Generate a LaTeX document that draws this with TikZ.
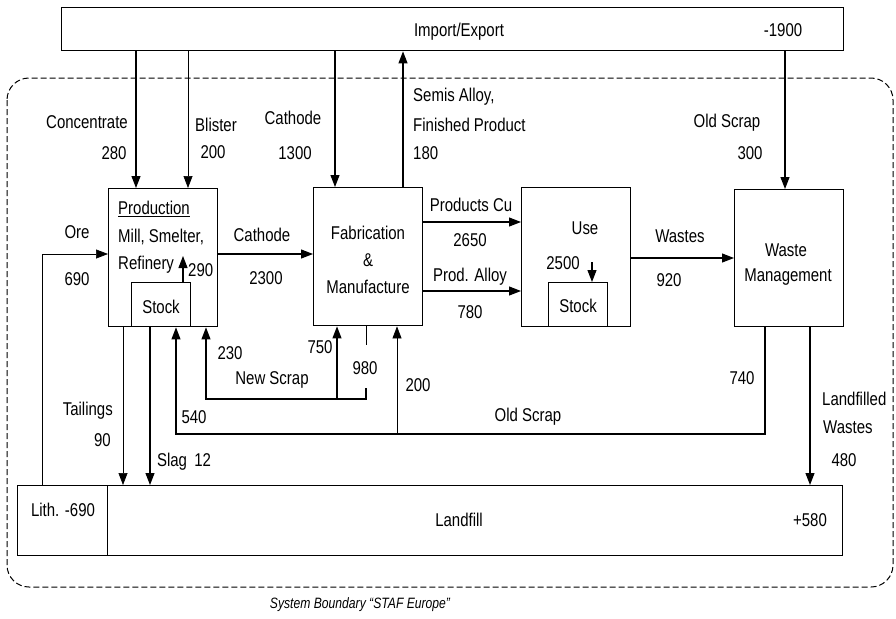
\documentclass[tikz,border=0pt]{standalone}
\usepackage{fontspec}
\setmainfont{Liberation Sans}[FakeStretch=0.81]
\usetikzlibrary{arrows.meta,calc}
\begin{document}
\begin{tikzpicture}[x=1pt,y=-1pt,
  font=\fontsize{18.5}{21}\selectfont,
  box/.style={draw, line width=1.4pt, inner sep=0pt, anchor=north west},
  lbl/.style={inner sep=0pt, anchor=center},
  flow/.style={line width=1.1pt, -{Triangle[length=12pt,width=9pt]}},
  thinflow/.style={flow, line width=0.7pt},
  plain/.style={line width=0.8pt},
  bound/.style={line width=1pt, dash pattern=on 6pt off 3pt, rounded corners=22pt}
]
\useasboundingbox (0,0) rectangle (896,618);
% boundary
\draw[bound] (7,78) rectangle (893,587);
% boxes
\node[box, minimum width=782pt, minimum height=43pt] (ie) at (61,7) {};
\node[box, minimum width=109pt, minimum height=138pt] (prod) at (108,188) {};
\node[box, minimum width=59pt, minimum height=44pt] (stk1) at (131,282) {};
\node[box, minimum width=109pt, minimum height=138pt] (fab) at (313,187) {};
\node[box, minimum width=109pt, minimum height=139pt] (use) at (521,187) {};
\node[box, minimum width=59pt, minimum height=44pt] (stk2) at (548,282) {};
\node[box, minimum width=109pt, minimum height=137pt] (wm) at (734,189) {};
\node[box, minimum width=90pt, minimum height=70pt] (lith) at (17,485) {};
\node[box, minimum width=735pt, minimum height=70pt] (lf) at (107,485) {};
% coordinates
\coordinate (xConc) at (136,0);
\coordinate (xBlis) at (188,0);
\coordinate (xCath) at (335,0);
\coordinate (xSemi) at (403,0);
\coordinate (xOld) at (785,0);
\coordinate (xOre) at (42,0);
\coordinate (xTail) at (123,0);
\coordinate (xSlag) at (150,0);
\coordinate (xOS) at (765,0);
\coordinate (xLW) at (810,0);
\coordinate (xR540) at (176,0);
\coordinate (xR200) at (397,0);
\coordinate (xR230) at (206,0);
\coordinate (xR750) at (337,0);
\coordinate (x290) at (183,0);
\coordinate (x2500) at (592,0);
\coordinate (yCath) at (0,254);
\coordinate (yPCu) at (0,222);
\coordinate (yPA) at (0,291);
\coordinate (yW) at (0,258);
\coordinate (yOS) at (0,434);
\coordinate (yNS) at (0,399);
\coordinate (y290) at (0,256);
\coordinate (y2500) at (0,262);
\coordinate (g1) at (366,345);
\coordinate (g2) at (366,388);
% top flows
\draw[flow] (xConc |- ie.south) -- (xConc |- prod.north);
\draw[thinflow] (xBlis |- ie.south) -- (xBlis |- prod.north);
\draw[flow] (xCath |- ie.south) -- (xCath |- fab.north);
\draw[flow] (xSemi |- fab.north) -- (xSemi |- ie.south);
\draw[flow] (xOld |- ie.south) -- (xOld |- wm.north);
% horizontal flows
\draw[thinflow] (xOre |- lith.north) |- (prod.west |- yCath);
\draw[flow] (prod.east |- yCath) -- (fab.west |- yCath);
\draw[flow] (fab.east |- yPCu) -- (use.west |- yPCu);
\draw[flow] (fab.east |- yPA) -- (use.west |- yPA);
\draw[flow] (use.east |- yW) -- (wm.west |- yW);
% stock flows
\draw[flow] (x290 |- stk1.north) -- (x290 |- y290);
\draw[flow] (x2500 |- y2500) -- (x2500 |- stk2.north);
% to landfill
\draw[thinflow] (xTail |- prod.south) -- (xTail |- lf.north);
\draw[flow] (xSlag |- stk1.south) -- (xSlag |- lf.north);
\draw[flow] (xLW |- wm.south) -- (xLW |- lf.north);
% old scrap return
\draw[flow] (xOS |- wm.south) |- (xR540 |- yOS) -- (xR540 |- stk1.south);
\draw[thinflow] (xR200 |- yOS) -- (xR200 |- fab.south);
% new scrap
\draw[plain] (g1 |- fab.south) -- (g1);
\draw[flow] (g2) |- (xR230 |- yNS) -- (xR230 |- prod.south);
\draw[flow] (xR750 |- yNS) -- (xR750 |- fab.south);
% labels
\node[lbl] (tIE) at (459,32) {Import/Export};
\node[lbl] (t1900) at (783,30) {-1900};
\node[lbl] (tConc) at (87,122) {Concentrate};
\node[lbl] (t280) at (114,153) {280};
\node[lbl] (tBlis) at (216,125) {Blister};
\node[lbl] (t200a) at (213,152) {200};
\node[lbl] (tCath) at (293,118) {Cathode};
\node[lbl] (t1300) at (295,153) {1300};
\node[lbl, anchor=west] (tSemi) at (413,97) {Semis Alloy,};
\node[lbl, anchor=west] (tFin) at (413,125) {Finished Product};
\node[lbl, anchor=west] (t180) at (413,153) {180};
\node[lbl] (tOldS) at (727,123) {Old Scrap};
\node[lbl] (t300) at (750,153) {300};
\node[lbl, anchor=west] (tProd) at (118,209) {\underline{Production}};
\node[lbl, anchor=west] (tMill) at (118,237) {Mill, Smelter,};
\node[lbl, anchor=west] (tRef) at (118,265) {Refinery};
\node[lbl, anchor=west] (t290) at (188,270) {290};
\node[lbl] (tStk1) at (161,307) {Stock};
\node[lbl] (tOre) at (77,232) {Ore};
\node[lbl] (t690) at (77,279) {690};
\node[lbl] (tCath2) at (262,235) {Cathode};
\node[lbl] (t2300) at (266,278) {2300};
\node[lbl] (tFab) at (368,233) {Fabrication};
\node[lbl] (tAmp) at (368,260) {\&};
\node[lbl] (tMan) at (368,287) {Manufacture};
\node[lbl] (tPCu) at (471,205) {Products Cu};
\node[lbl] (t2650) at (470,240) {2650};
\node[lbl] (tPA) at (470,277) {Prod. Alloy};
\node[lbl] (t780) at (470,312) {780};
\node[lbl] (tUse) at (585,228) {Use};
\node[lbl] (t2500) at (563,263) {2500};
\node[lbl] (tStk2) at (578,306) {Stock};
\node[lbl] (tWastes) at (680,236) {Wastes};
\node[lbl] (t920) at (669,280) {920};
\node[lbl] (tWaste) at (786,250) {Waste};
\node[lbl] (tMgmt) at (788,277) {Management};
\node[lbl] (t230) at (230,353) {230};
\node[lbl] (t750) at (320,347) {750};
\node[lbl] (t980) at (365,368) {980};
\node[lbl] (tNS) at (272,380) {New Scrap};
\node[lbl] (t200b) at (418,385) {200};
\node[lbl] (t540) at (194,417) {540};
\node[lbl] (tOS2) at (528,417) {Old Scrap};
\node[lbl] (t740) at (742,378) {740};
\node[lbl, anchor=east] (tTail) at (113,411) {Tailings};
\node[lbl, anchor=east] (t90) at (111,440) {90};
\node[lbl] (tSlag) at (184,462) {Slag\, 12};
\node[lbl, anchor=west] (tLand) at (822,399) {Landfilled};
\node[lbl, anchor=west] (tWas2) at (823,427) {Wastes};
\node[lbl] (t480) at (844,460) {480};
\node[lbl] (tLith) at (63,510) {Lith. -690};
\node[lbl] (tLf) at (459,520) {Landfill};
\node[lbl] (t580) at (810,520) {+580};
\node[lbl, font=\fontsize{15}{17}\selectfont\itshape] (tSB) at (360,605) {System Boundary “STAF Europe”};
\end{tikzpicture}
\end{document}
